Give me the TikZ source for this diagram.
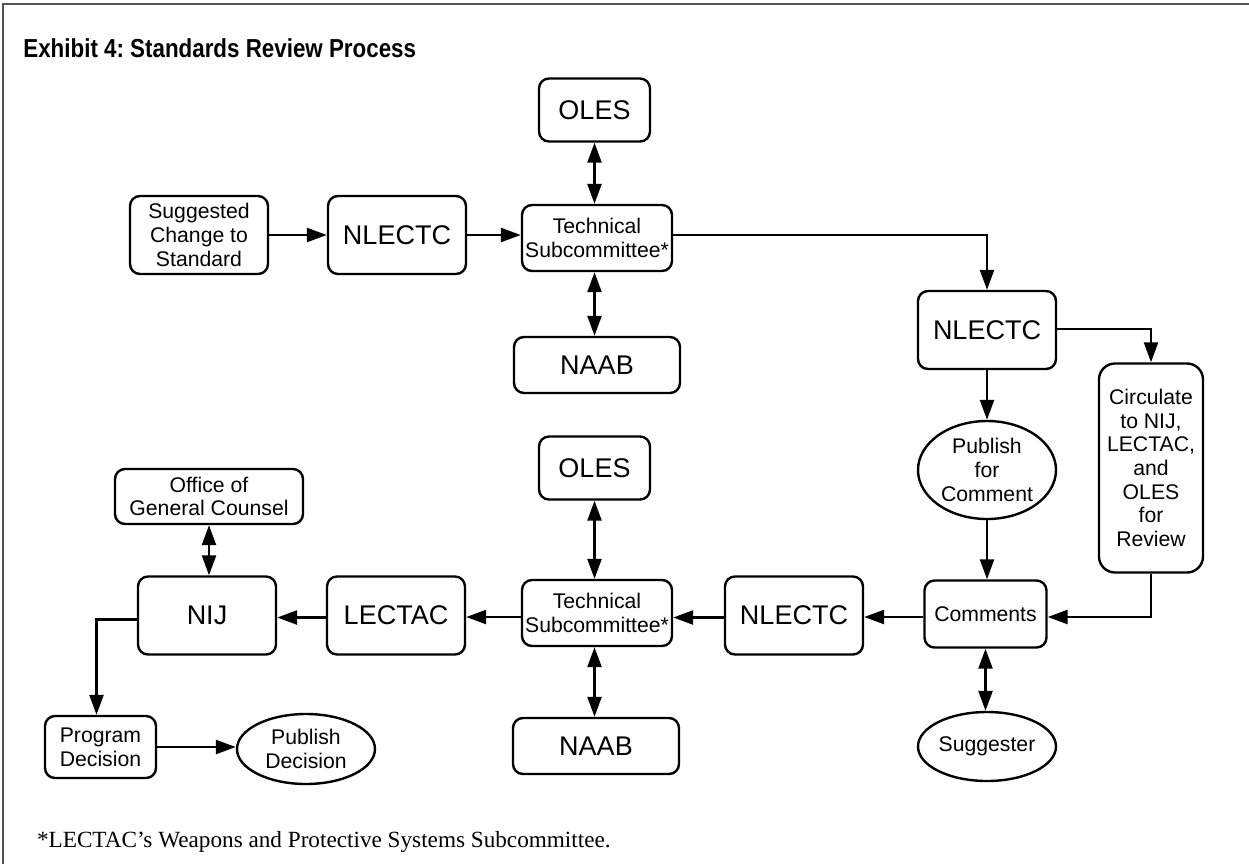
\documentclass[tikz,border=0pt]{standalone}
\usepackage{fontspec}
\setmainfont{Liberation Sans}
\newfontfamily\timesft{Liberation Serif}
\newfontfamily\titleft[FakeStretch=0.86]{Liberation Sans Bold}
\usetikzlibrary{arrows.meta}
\usetikzlibrary{shapes.geometric}

\begin{document}
\begin{tikzpicture}[x=0.5pt,y=-0.5pt,
    box/.style={draw,line width=1.2pt,rounded corners=5pt,align=center,inner sep=0pt},
    big/.style={box,font=\fontsize{13.5}{16}\selectfont},
    small/.style={box,font=\fontsize{10.6}{11.8}\selectfont},
    oval/.style={draw,line width=1.2pt,ellipse,align=center,inner sep=0pt,font=\fontsize{10.6}{11.8}\selectfont},
    arr/.style={line width=1.2pt,-{Triangle[length=10pt,width=7pt]}},
    both/.style={line width=1.2pt,{Triangle[length=10pt,width=7pt]}-{Triangle[length=10pt,width=7pt]}}]
    \useasboundingbox (0,0) rectangle (1249,864);
    % 外框只画上边和左边
    \draw[black!67,line width=1pt] (3,864) -- (3,4) -- (1249,4);
    \node[anchor=base west,inner sep=0pt,font=\titleft\fontsize{13}{15}\selectfont\frenchspacing] (title) at (23,57) {Exhibit 4: Standards Review Process};

    % 上半部分
    \node[small,minimum width=69pt,minimum height=39pt] (sugg) at (199,235) {Suggested\\Change to\\Standard};
    \node[big,minimum width=69pt,minimum height=39pt] (nlectcA) at (397,235) {NLECTC};
    \node[small,minimum width=75pt,minimum height=33pt] (techA) at (597,238) {Technical\\Subcommittee*};
    \node[big,minimum width=55.5pt,minimum height=31.5pt] (olesA) at (594.5,110) {OLES};
    \node[big,minimum width=83pt,minimum height=28pt] (naabA) at (597,365) {NAAB};
    \node[big,minimum width=69pt,minimum height=39pt] (nlectcB) at (987,330) {NLECTC};
    \node[small,rounded corners=8pt,minimum width=52pt,minimum height=104.5pt] (circ) at (1151,468) {Circulate\\to NIJ,\\LECTAC,\\and\\OLES\\for\\Review};
    \node[oval,minimum width=69pt,minimum height=49pt] (pubC) at (987,470) {Publish\\for\\Comment};
    \node[small,minimum width=61pt,minimum height=33.5pt] (comm) at (985.5,614) {Comments};
    \node[oval,minimum width=69pt,minimum height=34.5pt] (sugr) at (987,746.5) {Suggester};

    % 下半部分
    \node[big,minimum width=69pt,minimum height=39pt] (nlectcC) at (794,615.5) {NLECTC};
    \node[small,minimum width=75pt,minimum height=33pt] (techB) at (597,613) {Technical\\Subcommittee*};
    \node[big,minimum width=55.5pt,minimum height=31.5pt] (olesB) at (594.5,468) {OLES};
    \node[big,minimum width=83pt,minimum height=28pt] (naabB) at (596,746) {NAAB};
    \node[big,minimum width=69pt,minimum height=39pt] (lectac) at (396,615.5) {LECTAC};
    \node[big,minimum width=69pt,minimum height=39pt] (nij) at (207,615.5) {NIJ};
    \node[small,minimum width=94pt,minimum height=27.5pt] (ogc) at (209,496.5) {Office of\\General Counsel};
    \node[small,minimum width=55.5pt,minimum height=31pt] (prog) at (100.5,747) {Program\\Decision};
    \node[oval,minimum width=69pt,minimum height=35pt] (pubD) at (306,749) {Publish\\Decision};

    \node[anchor=base west,font=\timesft\fontsize{11.6}{14}\selectfont] (note) at (30,847) {*LECTAC’s Weapons and Protective Systems Subcommittee.};

    % 连线
    \draw[arr] (sugg) -- (nlectcA);
    \draw[arr] (nlectcA) -- (techA.west |- nlectcA);
    \draw[both] (olesA) -- (olesA |- techA.north);
    \draw[both] (olesA |- techA.south) -- (olesA |- naabA.north);
    \draw[arr] (techA.east |- nlectcA) -| (nlectcB);
    \draw[arr] (nlectcB) -- (pubC);
    \draw[arr] (pubC) -- (pubC |- comm.north);
    \draw[arr] ([yshift=0.5pt]nlectcB.east) -| (circ);
    \draw[arr] (circ) |- ([yshift=-1.5pt]comm.east);
    \draw[both] (comm) -- (comm |- sugr.north);
    \draw[arr] ([yshift=-1.5pt]comm.west) -- ([yshift=-1.5pt]comm.west -| nlectcC.east);
    \draw[arr] ([yshift=-1pt]nlectcC.west) -- ([yshift=-1pt]nlectcC.west -| techB.east);
    \draw[both] (olesB) -- (olesB |- techB.north);
    \draw[both] (olesB |- techB.south) -- (olesB |- naabB.north);
    \draw[arr] ([yshift=-2pt]techB.west) -- ([yshift=-2pt]techB.west -| lectac.east);
    \draw[arr] ([yshift=-1pt]lectac.west) -- ([yshift=-1pt]lectac.west -| nij.east);
    \draw[both] (ogc) -- (ogc |- nij.north);
    \draw[arr] ([yshift=-2pt]nij.west) -| ([xshift=-2pt]prog.north);
    \draw[arr] (prog) -- (prog -| pubD.west);
\end{tikzpicture}
\end{document}
